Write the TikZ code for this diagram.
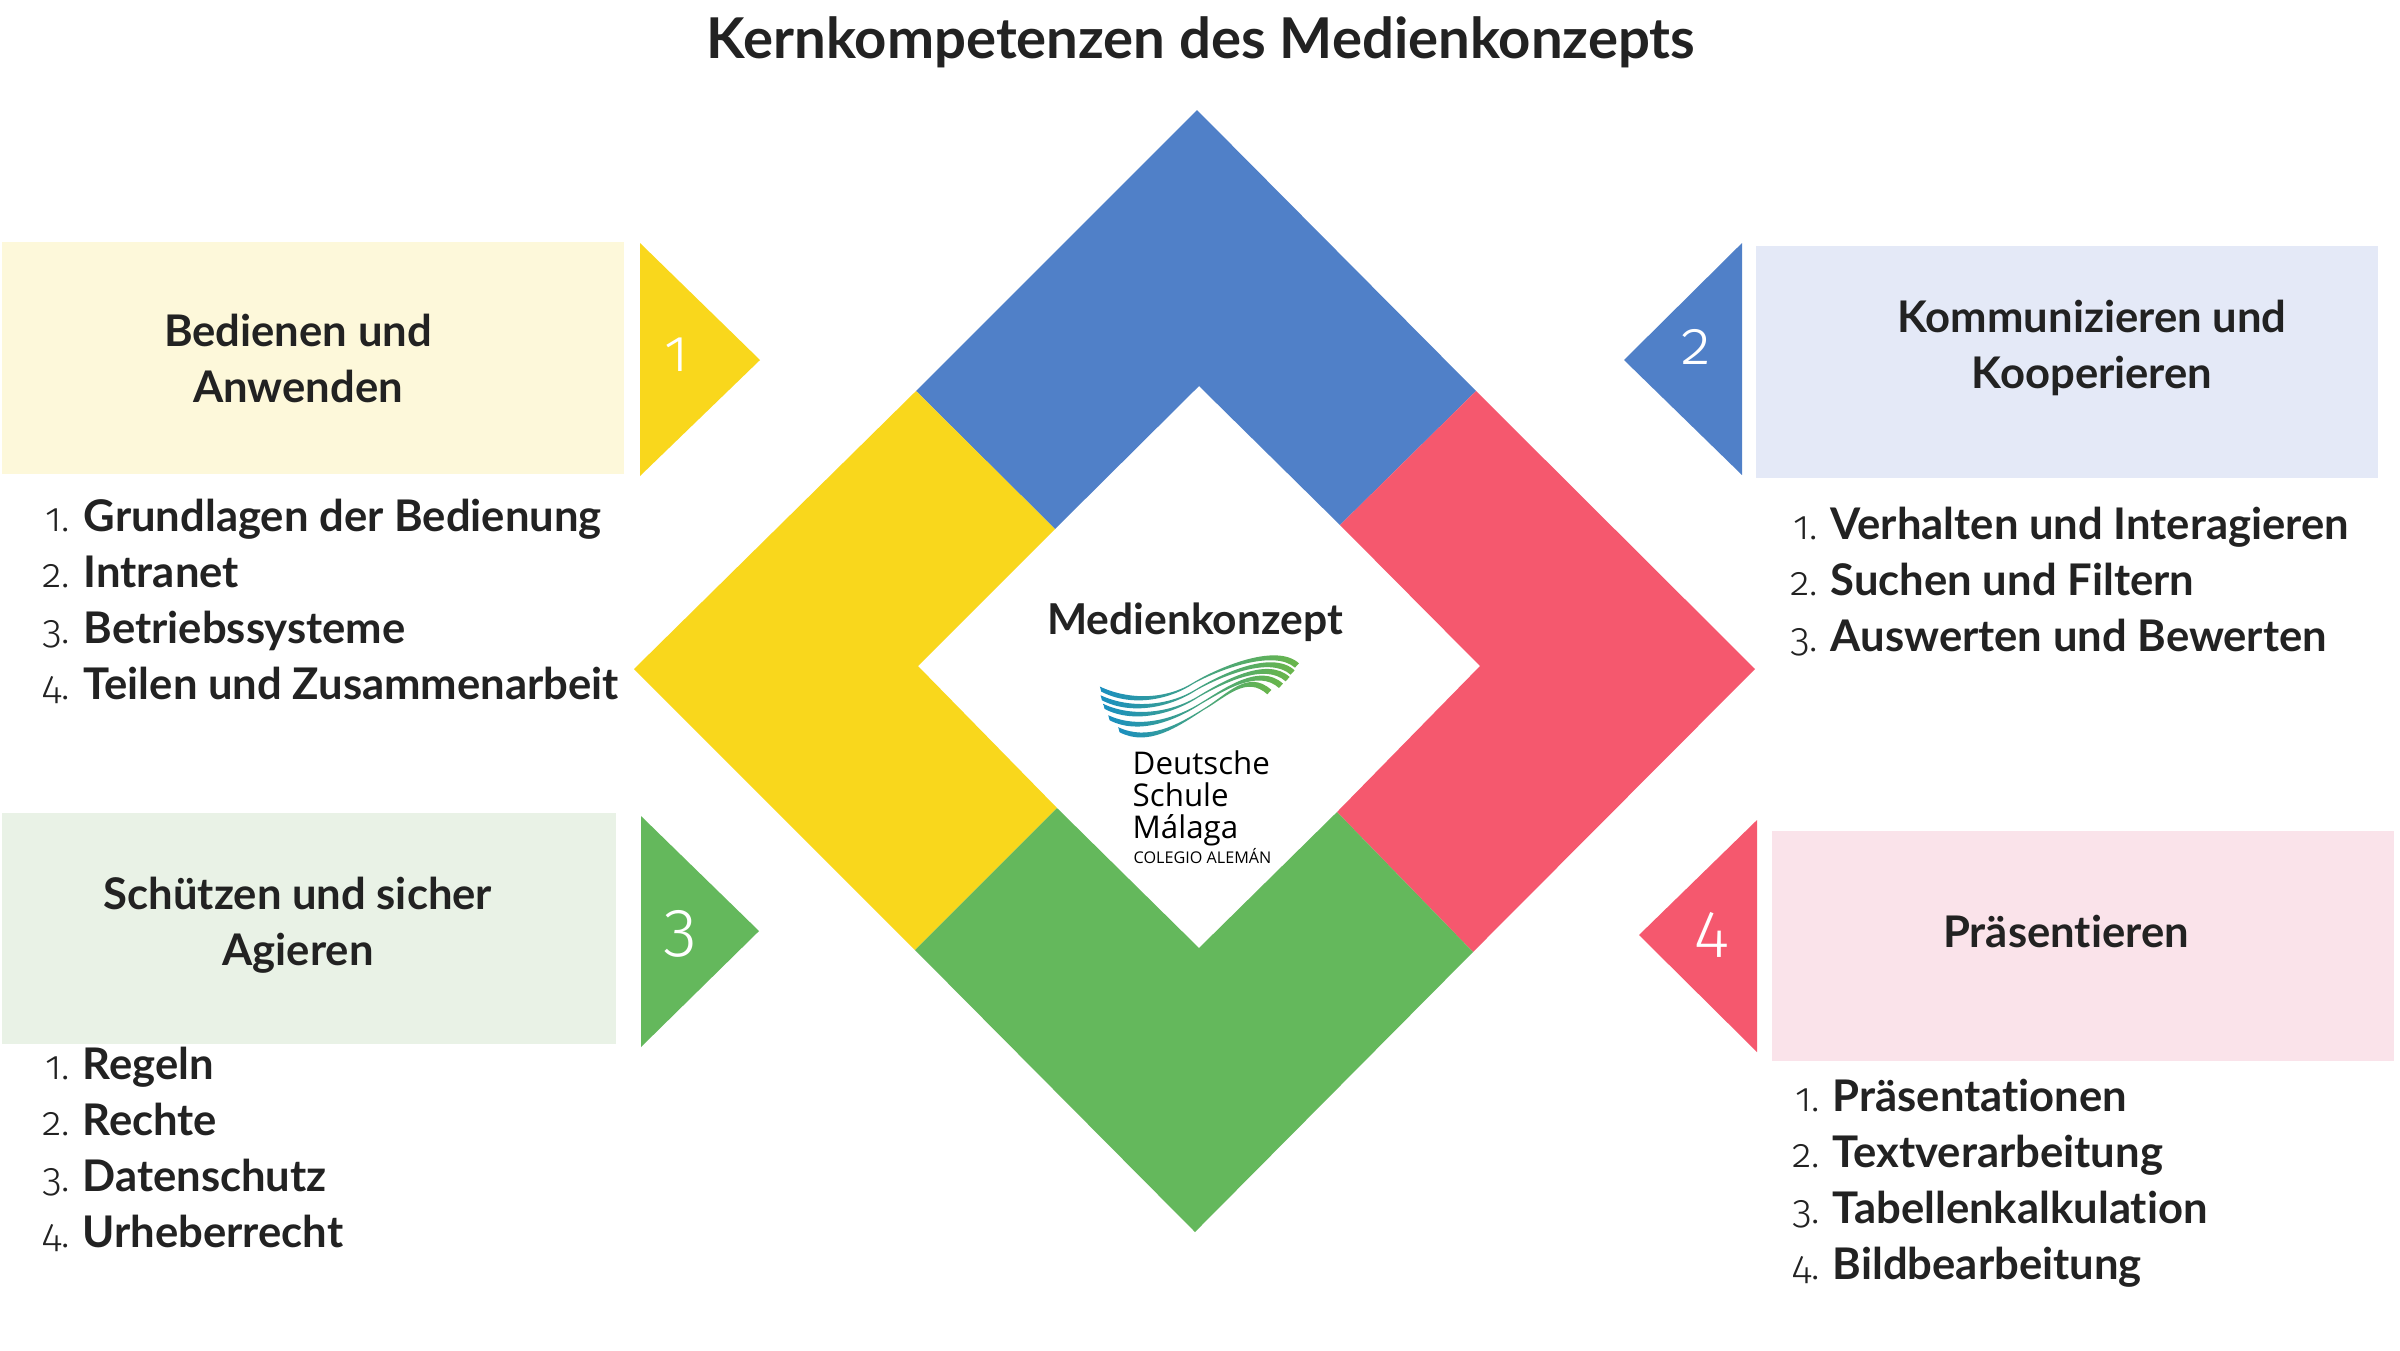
\documentclass[tikz,border=0pt]{standalone}
\usepackage{fontspec}
\setmainfont[Ligatures=NoCommon]{Lato}
\newfontfamily\numfont[Numbers=OldStyle]{Fira Sans Light}
\newfontfamily\logofont{Open Sans}
\usepackage{tikz}
\definecolor{kblue}{RGB}{80,128,200}
\definecolor{kred}{RGB}{245,88,110}
\definecolor{kyellow}{RGB}{249,215,28}
\definecolor{kgreen}{RGB}{100,184,92}
\definecolor{kbluelight}{RGB}{228,233,247}
\definecolor{kredlight}{RGB}{250,227,234}
\definecolor{kyellowlight}{RGB}{253,248,218}
\definecolor{kgreenlight}{RGB}{233,242,230}
\definecolor{kink}{RGB}{34,34,34}
\definecolor{logoblue}{RGB}{26,143,192}
\definecolor{logogreen}{RGB}{106,182,74}
\begin{document}
\begin{tikzpicture}[x=0.01cm, y=-0.01cm,
    head/.style={font=\fontsize{12.4}{15}\selectfont\bfseries, text=kink, anchor=base, inner sep=0pt},
    item/.style={font=\fontsize{12.4}{15}\selectfont\bfseries, text=kink, anchor=base west, inner sep=0pt},
    num/.style={font=\fontsize{11.5}{14}\numfont, text=kink, anchor=base east, inner sep=0pt},
    tnum/.style={font=\numfont, text=white, inner sep=0pt},
    logotxt/.style={font=\fontsize{8.9}{10}\logofont, text=black, anchor=base west, inner sep=0pt}]
\useasboundingbox (0,0) rectangle (2400,1350);
\fill[white] (0,0) rectangle (2400,1350);
\node[font=\fontsize{16}{18}\selectfont\bfseries, text=kink, anchor=base, inner sep=0pt] (title) at (1201,58) {Kernkompetenzen des Medienkonzepts};
% big diamond
\fill[kblue] (1197,110) -- (1476,391) -- (1340,525) -- (1199,386) -- (1055,529) -- (916,391) -- cycle;
\fill[kred] (1476,391) -- (1755,669) -- (1473,952) -- (1337,812) -- (1480,666) -- (1340,525) -- cycle;
\fill[kyellow] (916,391) -- (634,669) -- (915,950) -- (1057,808) -- (918,666) -- (1055,529) -- cycle;
\fill[kgreen] (915,950) -- (1057,808) -- (1199,948) -- (1337,812) -- (1473,952) -- (1195,1232) -- cycle;
% pale boxes
\fill[kyellowlight] (2,242) rectangle (624,474);
\fill[kbluelight] (1756,246) rectangle (2378,478);
\fill[kgreenlight] (2,813) rectangle (616,1044);
\fill[kredlight] (1772,831) rectangle (2394,1061);
% triangles
\fill[kyellow] (640,243) -- (640,476) -- (760,360) -- cycle;
\fill[kblue] (1742,243) -- (1742,475) -- (1624,360) -- cycle;
\fill[kgreen] (641,816) -- (641,1047) -- (759,931) -- cycle;
\fill[kred] (1757,820) -- (1757,1052) -- (1639,935) -- cycle;
\node[tnum, font=\fontsize{17}{19}\numfont] (n1) at (677,355) {1};
\node[tnum, font=\fontsize{17.5}{20}\numfont] (n2) at (1696,347) {2};
\node[tnum, font=\fontsize{19.5}{22}\numfont] (n3) at (680,934) {3};
\node[tnum, font=\fontsize{19}{21}\numfont] (n4) at (1711,935) {4};
% headers
\node[head] (h1a) at (298,346) {Bedienen und};
\node[head] (h1b) at (298,402) {Anwenden};
\node[head] (h2a) at (2092,332) {Kommunizieren und};
\node[head] (h2b) at (2092,388) {Kooperieren};
\node[head] (h3a) at (298,909) {Schützen und sicher};
\node[head] (h3b) at (298,965) {Agieren};
\node[head] (h4a) at (2066,947) {Präsentieren};
% lists
\foreach \i/\y/\t in {1/531/Grundlagen der Bedienung, 2/587/Intranet, 3/643/Betriebssysteme, 4/699/Teilen und Zusammenarbeit} {
    \node[num] (la\i) at (71,\y) {\i.};
    \node[item] (ta\i) at (83,\y) {\t};
}
\foreach \i/\y/\t in {1/539/Verhalten und Interagieren, 2/595/Suchen und Filtern, 3/651/Auswerten und Bewerten} {
    \node[num] (lb\i) at (1819,\y) {\i.};
    \node[item] (tb\i) at (1830,\y) {\t};
}
\foreach \i/\y/\t in {1/1079/Regeln, 2/1135/Rechte, 3/1191/Datenschutz, 4/1247/Urheberrecht} {
    \node[num] (lc\i) at (71,\y) {\i.};
    \node[item] (tc\i) at (82,\y) {\t};
}
\foreach \i/\y/\t in {1/1111/Präsentationen, 2/1167/Textverarbeitung, 3/1223/Tabellenkalkulation, 4/1279/Bildbearbeitung} {
    \node[num] (ld\i) at (1821,\y) {\i.};
    \node[item] (td\i) at (1832,\y) {\t};
}
% centre
\node[head, font=\fontsize{12.1}{15}\selectfont\bfseries] (mk) at (1195,634) {Medienkonzept};
\begin{scope}[shift={(1050,640)}, x=0.00333cm, y=-0.00333cm]
\foreach \sx/\sy/\mx/\my/\ex/\ey in {150/140/430/128/748/70, 152/166/438/148/735/91, 160/192/446/168/720/111, 175/226/454/188/700/131, 205/262/462/206/665/150} {
    \shade[left color=logoblue, right color=logogreen]
      (\sx,\sy) .. controls ({\sx+90},{\sy+42}) and ({\mx-80},{\my+50}) .. (\mx,\my)
      .. controls ({\mx+70},{\my-42}) and ({\ex-70},{\ey-64}) .. (\ex,\ey)
      -- ({\ex-12},{\ey+13}) .. controls ({\ex-75},{\ey-44}) and ({\mx+70},{\my-36}) .. (\mx,{\my+4})
      .. controls ({\mx-80},{\my+56}) and ({\sx+90},{\sy+60}) .. ({\sx+4},{\sy+15}) -- cycle;
}
\end{scope}
\node[logotxt] (ds1) at (1132,774) {Deutsche};
\node[logotxt] (ds2) at (1132,806) {Schule};
\node[logotxt] (ds3) at (1132,838) {Málaga};
\node[logotxt, font=\fontsize{4.6}{6}\logofont] (ds4) at (1133,863) {COLEGIO ALEMÁN};
\end{tikzpicture}
\end{document}
